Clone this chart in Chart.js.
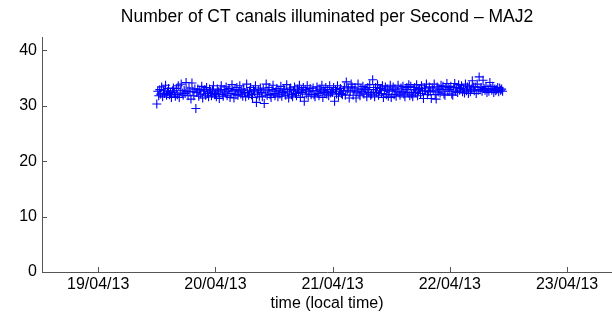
<!doctype html>
<html lang="en">
<head>
    <meta charset="utf-8">
    <title>CT canals - MAJ2</title>
    <script src="https://cdn.jsdelivr.net/npm/chart.js@4.4.1/dist/chart.umd.min.js"></script>
    <style>
      html, body { margin: 0; padding: 0; background: #fff; }
      #chartContainer { width: 612px; height: 318px; }
    </style>
    <script type="text/javascript">

      // x = hours since 19/04/13 00:00 (local time)
      const xTickHours = [0, 24, 48, 72, 96];
      const xTickLabels = ['19/04/13', '20/04/13', '21/04/13', '22/04/13', '23/04/13'];
      const yTicks = [0, 10, 20, 30, 40];

      const sampleHours = [
        12.0,12.2,12.4,12.6,12.8,13.0,13.2,13.4,13.6,13.8,
        14.0,14.2,14.4,14.6,14.8,15.0,15.2,15.4,15.6,15.8,
        16.0,16.2,16.4,16.6,16.8,17.0,17.2,17.4,17.6,17.8,
        18.0,18.2,18.4,18.6,18.8,19.0,19.2,19.4,19.6,19.8,
        20.0,20.2,20.4,20.6,20.8,21.0,21.2,21.4,21.6,21.8,
        22.0,22.2,22.4,22.6,22.8,23.0,23.2,23.4,23.6,23.8,
        24.0,24.2,24.4,24.6,24.8,25.0,25.2,25.4,25.6,25.8,
        26.0,26.2,26.4,26.6,26.8,27.0,27.2,27.4,27.6,27.8,
        28.0,28.2,28.4,28.6,28.8,29.0,29.2,29.4,29.6,29.8,
        30.0,30.2,30.4,30.6,30.8,31.0,31.2,31.4,31.6,31.8,
        32.0,32.2,32.4,32.6,32.8,33.0,33.2,33.4,33.6,33.8,
        34.0,34.2,34.4,34.6,34.8,35.0,35.2,35.4,35.6,35.8,
        36.0,36.2,36.4,36.6,36.8,37.0,37.2,37.4,37.6,37.8,
        38.0,38.2,38.4,38.6,38.8,39.0,39.2,39.4,39.6,39.8,
        40.0,40.2,40.4,40.6,40.8,41.0,41.2,41.4,41.6,41.8,
        42.0,42.2,42.4,42.6,42.8,43.0,43.2,43.4,43.6,43.8,
        44.0,44.2,44.4,44.6,44.8,45.0,45.2,45.4,45.6,45.8,
        46.0,46.2,46.4,46.6,46.8,47.0,47.2,47.4,47.6,47.8,
        48.0,48.2,48.4,48.6,48.8,49.0,49.2,49.4,49.6,49.8,
        50.0,50.2,50.4,50.6,50.8,51.0,51.2,51.4,51.6,51.8,
        52.0,52.2,52.4,52.6,52.8,53.0,53.2,53.4,53.6,53.8,
        54.0,54.2,54.4,54.6,54.8,55.0,55.2,55.4,55.6,55.8,
        56.0,56.2,56.4,56.6,56.8,57.0,57.2,57.4,57.6,57.8,
        58.0,58.2,58.4,58.6,58.8,59.0,59.2,59.4,59.6,59.8,
        60.0,60.2,60.4,60.6,60.8,61.0,61.2,61.4,61.6,61.8,
        62.0,62.2,62.4,62.6,62.8,63.0,63.2,63.4,63.6,63.8,
        64.0,64.2,64.4,64.6,64.8,65.0,65.2,65.4,65.6,65.8,
        66.0,66.2,66.4,66.6,66.8,67.0,67.2,67.4,67.6,67.8,
        68.0,68.2,68.4,68.6,68.8,69.0,69.2,69.4,69.6,69.8,
        70.0,70.2,70.4,70.6,70.8,71.0,71.2,71.4,71.6,71.8,
        72.0,72.2,72.4,72.6,72.8,73.0,73.2,73.4,73.6,73.8,
        74.0,74.2,74.4,74.6,74.8,75.0,75.2,75.4,75.6,75.8,
        76.0,76.2,76.4,76.6,76.8,77.0,77.2,77.4,77.6,77.8,
        78.0,78.2,78.4,78.6,78.8,79.0,79.2,79.4,79.6,79.8,
        80.0,80.2,80.4,80.6,80.8,81.0,81.2,81.4,81.6,81.8,
        82.0,82.2,82.4,82.6,82.8
      ];

      const canalsPerSecond = [
        30.3,32.6,31.8,32.9,32.1,33.4,31.6,32.8,32.2,33.7,
        31.9,32.5,33.1,32.0,32.4,31.5,32.7,33.2,32.3,31.7,
        33.1,32.0,33.6,31.5,32.7,33.9,32.3,31.9,32.8,32.2,
        34.2,32.6,31.8,33.2,32.5,31.2,34.1,32.6,31.8,33.0,
        29.5,32.4,33.0,31.7,32.8,32.1,33.5,31.4,32.6,32.9,
        31.9,33.3,32.2,31.6,33.0,32.5,31.8,32.8,33.6,32.0,
        32.2,31.6,33.0,32.5,31.3,32.8,33.6,32.0,31.7,32.9,
        32.3,33.4,31.8,32.6,33.1,31.5,32.2,33.8,32.7,31.4,
        32.9,32.0,33.3,31.9,32.5,33.6,32.1,32.8,31.7,33.0,
        32.4,31.6,33.9,32.3,31.9,32.7,33.3,32.0,31.5,32.9,
        32.5,33.6,30.6,32.1,32.8,31.7,33.2,32.4,31.6,33.0,
        30.4,32.3,33.9,31.9,32.7,33.3,32.0,31.5,32.9,33.7,
        32.2,31.8,32.6,33.1,31.6,32.8,32.1,33.5,31.7,32.4,
        33.0,32.6,31.9,33.8,32.3,31.4,32.9,33.2,32.0,31.6,
        32.7,33.4,32.2,31.8,33.0,32.5,33.7,31.5,32.8,32.4,
        33.3,30.8,32.9,32.1,33.6,31.7,32.6,33.1,32.0,32.7,
        33.2,32.0,31.6,32.7,33.4,32.2,31.8,33.0,32.5,33.7,
        31.5,32.8,32.4,33.3,32.1,32.9,31.8,33.6,32.3,32.6,
        32.4,33.3,30.8,32.9,32.1,33.6,31.7,32.6,33.1,32.2,
        32.0,32.7,33.4,31.9,34.3,32.8,33.2,31.4,32.5,33.9,
        33.4,31.9,32.8,33.2,31.4,32.5,33.9,32.3,31.8,33.0,
        32.6,33.5,32.1,33.0,32.9,31.6,33.3,32.4,33.8,31.9,
        32.1,34.7,32.9,31.6,33.3,32.4,33.8,31.9,32.7,33.1,
        32.2,33.6,31.5,32.8,33.4,32.0,33.0,31.7,32.6,33.7,
        31.5,32.8,33.4,32.0,33.0,31.7,32.6,33.7,32.3,31.9,
        33.2,32.5,33.5,32.1,31.6,32.9,33.3,32.4,33.8,31.8,
        33.5,32.1,31.6,32.9,33.3,32.4,33.8,31.8,32.7,33.1,
        32.2,33.6,32.6,31.3,33.2,32.8,33.9,32.0,32.5,33.4,
        32.6,31.3,33.2,32.8,33.9,32.0,31.2,33.4,32.5,33.0,
        32.3,33.7,32.9,33.5,32.1,31.9,33.2,34.0,32.6,33.3,
        32.9,33.5,32.1,31.9,33.2,34.0,32.6,33.3,32.4,33.8,
        32.8,33.1,33.6,32.5,33.0,32.3,33.9,32.7,33.4,32.2,
        33.6,32.5,33.0,34.5,33.4,32.7,33.4,32.2,33.9,32.8,
        35.2,32.9,33.3,32.6,34.6,33.1,32.8,33.5,32.4,33.0,
        32.6,34.2,33.1,32.8,33.5,32.4,33.0,32.7,32.9,33.3,
        32.5,33.2,32.8,33.0,32.6
      ];

      const fontFamily = '"Liberation Sans", Arial, Helvetica, sans-serif';
      const axisColor = '#555555';

      // matlab style ticks pointing inside the axes
      const innerTicks = {
        id: 'innerTicks',
        afterDatasetsDraw(chart) {
          const ctx = chart.ctx;
          const area = chart.chartArea;
          const xs = chart.scales.x;
          const ys = chart.scales.y;
          ctx.save();
          ctx.strokeStyle = axisColor;
          ctx.lineWidth = 1;
          ctx.beginPath();
          xs.ticks.forEach(function(t){
            const px = Math.round(xs.getPixelForValue(t.value)) + 0.5;
            ctx.moveTo(px, area.bottom);
            ctx.lineTo(px, area.bottom - 5);
          });
          ys.ticks.forEach(function(t){
            const py = Math.round(ys.getPixelForValue(t.value)) + 0.5;
            ctx.moveTo(area.left, py);
            ctx.lineTo(area.left + 5, py);
          });
          ctx.stroke();
          ctx.restore();
        }
      };

      const makeChart = () => {
        const ctx = document.getElementById('myChart');

        const points = [];
        sampleHours.forEach(function(h, i){
          points.push({ x: h, y: canalsPerSecond[i] });
        });

        new Chart(ctx, {
          type: 'scatter',
          data: {
            datasets: [{
              label: 'MAJ2',
              data: points,
              pointStyle: 'cross',
              pointRadius: 4.5,
              pointHoverRadius: 4.5,
              borderColor: '#0000ff',
              backgroundColor: '#0000ff',
              pointBorderWidth: 1.1
            }]
          },
          options: {
            responsive: false,
            animation: false,
            events: [],
            layout: { padding: 0, autoPadding: false },
            plugins: {
              legend: { display: false },
              tooltip: { enabled: false },
              title: {
                display: true,
                fullSize: false,
                text: 'Number of CT canals illuminated per Second \u2013 MAJ2',
                color: '#000',
                font: { family: fontFamily, size: 17.5, weight: 'normal' },
                padding: { top: 7, bottom: 9 }
              }
            },
            scales: {
              x: {
                type: 'linear',
                min: -11.5,
                max: 105.2,
                afterBuildTicks: function(scale){
                  scale.ticks = xTickHours.map(function(v){ return { value: v }; });
                },
                afterFit: function(scale){
                  scale.height = 46;
                  scale.paddingLeft = 0;
                  scale.paddingRight = 0;
                },
                ticks: {
                  color: '#000',
                  font: { family: fontFamily, size: 16 },
                  padding: 3,
                  maxRotation: 0,
                  callback: function(value){
                    const i = xTickHours.indexOf(value);
                    return i >= 0 ? xTickLabels[i] : '';
                  }
                },
                grid: { display: true, drawOnChartArea: false, drawTicks: false },
                border: { display: true, color: axisColor, width: 1 },
                title: {
                  display: true,
                  text: 'time (local time)',
                  color: '#000',
                  font: { family: fontFamily, size: 16 },
                  padding: { top: 0, bottom: 5 }
                }
              },
              y: {
                min: 0,
                max: 42.4,
                afterBuildTicks: function(scale){
                  scale.ticks = yTicks.map(function(v){ return { value: v }; });
                },
                afterFit: function(scale){ scale.width = 42; },
                ticks: {
                  color: '#000',
                  font: { family: fontFamily, size: 16 },
                  padding: 5
                },
                grid: { display: true, drawOnChartArea: false, drawTicks: false },
                border: { display: true, color: axisColor, width: 1 }
              }
            }
          },
          plugins: [innerTicks]
        });
      };

      window.onload = makeChart;
    </script>
</head>
<body>
    <div id="chartContainer">
        <canvas id="myChart" width="612" height="318"></canvas>
    </div>
</body>
</html>
